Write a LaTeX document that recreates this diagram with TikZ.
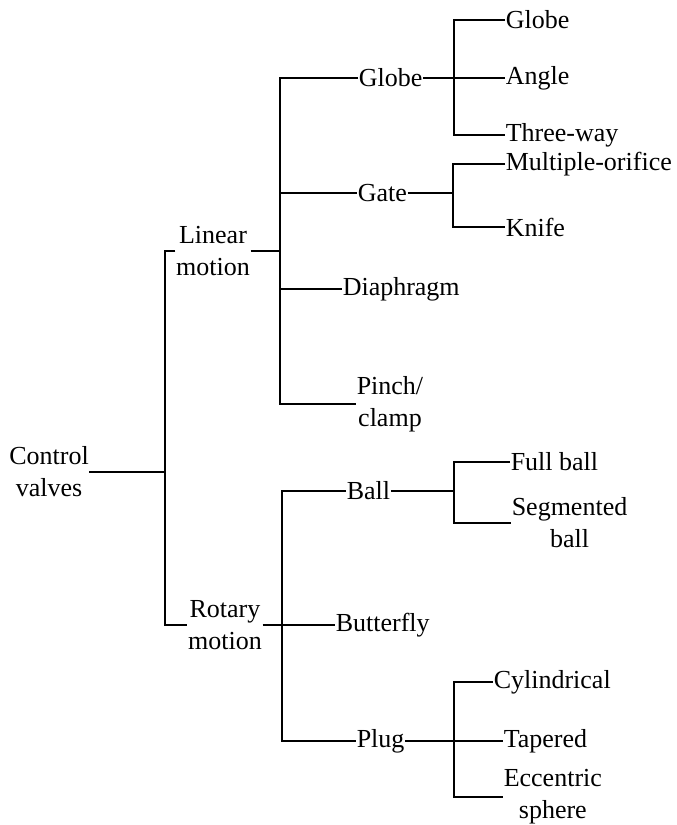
\documentclass[tikz,border=0pt]{standalone}
\usepackage{fontspec}
\setmainfont{Liberation Serif}
\begin{document}
\begin{tikzpicture}[x=0.5pt,y=-0.5pt,line width=0.75pt,
    every node/.style={inner sep=0pt,align=center,font=\fontsize{13}{16}\selectfont}]
    \useasboundingbox (0,0) rectangle (676,825);

    % root and the two motion groups
    \node (cv) at (49,472) {Control\\valves};
    \node (lin) at (213,251) {Linear\\motion};
    \node (rot) at (225,625) {Rotary\\motion};

    % linear motion valves
    \node[anchor=west] (globe) at (358,78) {Globe};
    \node[anchor=west] (gate) at (357,193) {Gate};
    \node[anchor=west] (diaph) at (342,289) {Diaphragm};
    \node[anchor=west] (pinch) at (356,404) {Pinch/\\clamp};

    \node[anchor=west] (globe2) at (505,20) {Globe};
    \node[anchor=west] (angle) at (505,78) {Angle};
    \node[anchor=west] (three) at (505,135) {Three-way};
    \node[anchor=west] (multi) at (505,164) {Multiple-orifice};
    \node[anchor=west] (knife) at (505,227) {Knife};

    % rotary motion valves
    \node[anchor=west] (ball) at (346,491) {Ball};
    \node[anchor=west] (bfly) at (335,625) {Butterfly};
    \node[anchor=west] (plug) at (356,741) {Plug};

    \node[anchor=west] (full) at (510,462) {Full ball};
    \node[anchor=west] (seg) at (511,523) {Segmented\\ball};
    \node[anchor=west] (cyl) at (493,682) {Cylindrical};
    \node[anchor=west] (taper) at (503,741) {Tapered};
    \node[anchor=west] (ecc) at (503,797) {Eccentric\\sphere};

    \coordinate (j0) at (165,472);
    \coordinate (j1) at (280,251);
    \coordinate (j2) at (282,625);

    % first level
    \path[draw] (cv.east) -- (j0);
    \path[draw] (lin.west) -- (lin.west -| j0) -- (rot.west -| j0) -- (rot.west);

    % second level
    \path[draw] (lin.east) -- (j1);
    \path[draw] (globe.west) -- (globe.west -| j1) -- (pinch.west -| j1) -- (pinch.west);
    \path[draw] (gate.west -| j1) -- (gate.west);
    \path[draw] (diaph.west -| j1) -- (diaph.west);

    \path[draw] (rot.east) -- (bfly.west);
    \path[draw] (ball.west) -- (ball.west -| j2) -- (plug.west -| j2) -- (plug.west);

    % third level
    \path[draw] (globe.east) -- (angle.west);
    \path[draw] (globe2.west) -- (454,20) -- (454,135) -- (three.west);
    \path[draw] (gate.east) -- (453,193);
    \path[draw] (multi.west) -- (453,164) -- (453,227) -- (knife.west);

    \path[draw] (ball.east) -- (454,491);
    \path[draw] (full.west) -- (454,462) -- (454,523) -- (seg.west);
    \path[draw] (plug.east) -- (taper.west);
    \path[draw] (cyl.west) -- (454,682) -- (454,797) -- (ecc.west);
\end{tikzpicture}
\end{document}
